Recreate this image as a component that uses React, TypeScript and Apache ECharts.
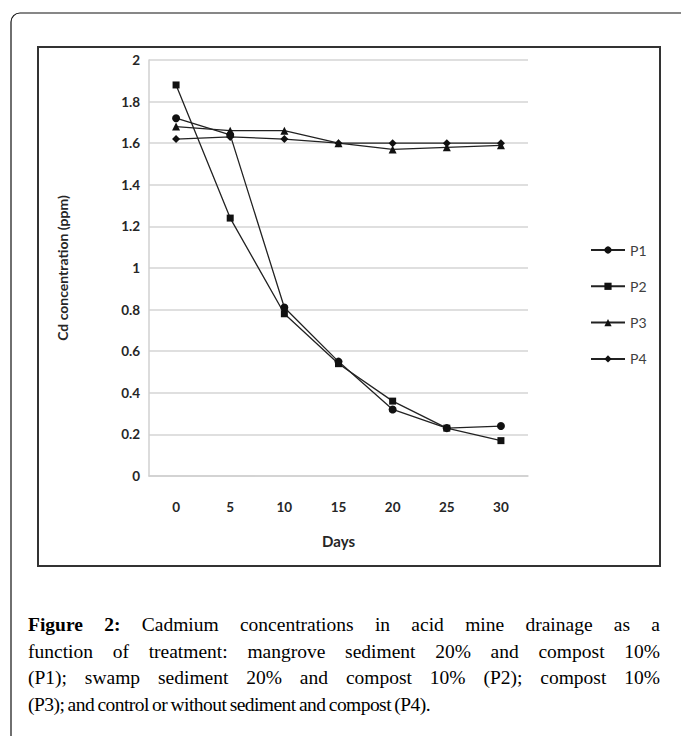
import React, { useEffect, useRef } from "react";
import * as echarts from "echarts";

const days = ["0", "5", "10", "15", "20", "25", "30"];
const p1 = [1.72, 1.64, 0.81, 0.55, 0.32, 0.23, 0.24];
const p2 = [1.88, 1.24, 0.78, 0.54, 0.36, 0.23, 0.17];
const p3 = [1.68, 1.66, 1.66, 1.6, 1.57, 1.58, 1.59];
const p4 = [1.62, 1.63, 1.62, 1.6, 1.6, 1.6, 1.6];
const seriesNames = ["P1", "P2", "P3", "P4"];
const seriesSymbols = ["circle", "rect", "triangle", "diamond"];
const captionLines = [
  "Cadmium concentrations in acid mine drainage as a",
  "function of treatment: mangrove sediment 20% and compost 10%",
  "(P1); swamp sediment 20% and compost 10% (P2); compost 10%",
  "(P3); and control or without sediment and compost (P4).",
];

export default function App() {
  const ref = useRef<HTMLDivElement>(null);
  useEffect(() => {
    document.body.style.margin = "0";
    const chart = echarts.init(ref.current!, null, { renderer: "svg" });
    const values = [p1, p2, p3, p4];
    chart.setOption({
      animation: false,
      backgroundColor: "#fff",
      textStyle: { fontFamily: "Lato" },
      graphic: [
        {
          type: "rect",
          shape: { x: 11, y: 13, width: 720, height: 780, r: 9 },
          style: { fill: "none", stroke: "#111", lineWidth: 1.2 },
          silent: true,
        },
        {
          type: "rect",
          shape: { x: 38, y: 47, width: 622, height: 519 },
          style: { fill: "none", stroke: "#333", lineWidth: 2 },
          silent: true,
        },
      ],
      grid: { left: 149, top: 60, width: 379, height: 416, containLabel: false },
      legend: {
        orient: "vertical",
        left: 585,
        top: 238,
        itemWidth: 34,
        itemHeight: 9,
        itemGap: 22.3,
        textStyle: { fontSize: 14, color: "#404040", fontFamily: "Lato" },
        data: seriesNames,
      },
      xAxis: {
        type: "category",
        data: days,
        boundaryGap: true,
        name: "Days",
        nameLocation: "middle",
        nameGap: 57,
        nameTextStyle: { fontSize: 15, fontWeight: "bold", color: "#262626", fontFamily: "Lato" },
        axisLine: { lineStyle: { color: "#d0d0d0", width: 1.5 } },
        axisTick: { show: false },
        axisLabel: { margin: 24, fontSize: 13.5, fontWeight: "bold", color: "#262626", fontFamily: "Lato" },
      },
      yAxis: {
        type: "value",
        min: 0,
        max: 2,
        interval: 0.2,
        name: "Cd concentration (ppm)",
        nameLocation: "middle",
        nameGap: 80,
        nameTextStyle: { fontSize: 14, fontWeight: "bold", color: "#262626", fontFamily: "Lato" },
        axisLine: { show: true, lineStyle: { color: "#d0d0d0", width: 1.5 } },
        axisTick: { show: false },
        splitLine: { lineStyle: { color: "#d4d4d4", width: 1.5 } },
        axisLabel: { margin: 9, fontSize: 13.5, fontWeight: "bold", color: "#262626", fontFamily: "Lato" },
      },
      series: seriesNames.map((n, i) => ({
        name: n,
        type: "line",
        data: values[i],
        symbol: seriesSymbols[i],
        symbolSize: seriesSymbols[i] === "rect" ? 7 : 8,
        showAllSymbol: true,
        itemStyle: { color: "#111" },
        lineStyle: { color: "#222", width: 1.3 },
      })),
    });
    return () => chart.dispose();
  }, []);
  const last = captionLines.length - 1;
  return (
    <div style={{ position: "fixed", left: 0, top: 0, width: 681, height: 736, background: "#fff", overflow: "hidden" }}>
      <div ref={ref} style={{ position: "absolute", left: 0, top: 0, width: 681, height: 736 }} />
      <div
        style={{
          position: "absolute",
          left: 28,
          top: 612,
          width: 632,
          fontFamily: "'Liberation Serif', serif",
          fontSize: 19.5,
          lineHeight: "26.7px",
          color: "#000",
        }}
      >
        {captionLines.map((line, i) => (
          <div
            key={i}
            style={{
              textAlign: i < last ? "justify" : "left",
              textAlignLast: i < last ? "justify" : "left",
              whiteSpace: "nowrap",
              letterSpacing: i === last ? "-0.55px" : "normal",
              wordSpacing: i === last ? "-1px" : "normal",
            }}
          >
            {i === 0 ? <b>{"Figure\u00a02:"}</b> : null}
            {i === 0 ? " " : null}
            {line}
          </div>
        ))}
      </div>
    </div>
  );
}
